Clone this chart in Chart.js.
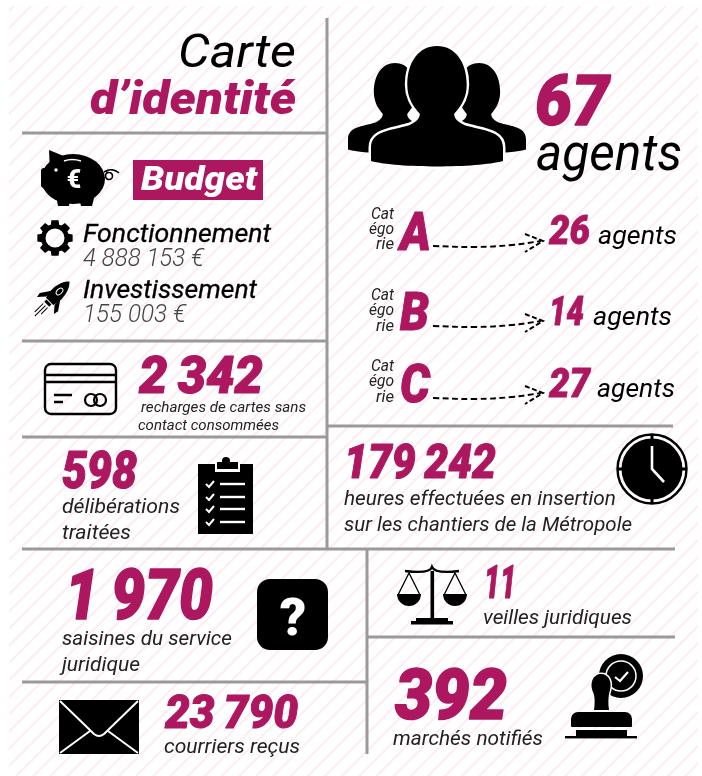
<!DOCTYPE html>
<html lang="fr">
<head>
<meta charset="utf-8">
<title>Carte d'identité</title>
<script src="https://cdn.jsdelivr.net/npm/chart.js@4"></script>
<style>
  html, body { margin: 0; padding: 0; background: #fff; }
  canvas { display: block; }
</style>
</head>
<body>
<canvas id="infographic" width="702" height="776"></canvas>
<script>
// data
const titleLines = ['Carte', 'd’identité'];
const budgetTitle = 'Budget';
const budgetLabels = ['Fonctionnement', 'Investissement'];
const budgetValues = [4888153, 155003];
const totalAgents = 67;
const agentsWord = 'agents';
const categories = ['A', 'B', 'C'];
const categoryAgents = [26, 14, 27];
const categoryWord = ['Cat', 'égo', 'rie'];
const statValues = [2342, 598, 179242, 1970, 23790, 11, 392];
const statLabels = [
    ['recharges de cartes sans', 'contact consommées'],
    ['délibérations', 'traitées'],
    ['heures effectuées en insertion', 'sur les chantiers de la Métropole'],
    ['saisines du service', 'juridique'],
    ['courriers reçus'],
    ['veilles juridiques'],
    ['marchés notifiés'],
];

const MAGENTA = '#ad1760';
const INK = '#000';
const SOFT = '#222';
const GREY = '#9a9a9a';

// thin space between thousands for the big figures, like the original
const groupNumber = (n, sep = ' ') => String(n).replace(/\B(?=(\d{3})+$)/g, sep);

const font = (weight, size) => `italic ${weight} ${size}px Roboto, "Noto Sans", sans-serif`;

// layout: [x, baseline, width, size]
const statNumberBox = [
    [139, 393, 124, 52], [62, 488, 75, 52], [344, 478, 152, 48],
    [65, 619, 148, 70], [165, 728, 133, 47], [484, 598, 32, 46], [395, 719, 112, 70],
];
const statLabelBox = [
    [[141, 412, 165, 15.5], [138, 430, 141, 15.5]],
    [[62, 513, 118, 21], [62, 539, 69, 21]],
    [[344, 505, 272, 20.5], [344, 531, 288, 20.5]],
    [[62, 645, 170, 20.5], [62, 671, 78, 20.5]],
    [[164, 753, 136, 20.5]],
    [[483, 624, 149, 20.5]],
    [[393, 745, 150, 20.5]],
];
const categoryRows = [
    { word: [[371, 219, 23], [369, 234, 25], [376, 249, 18]], letter: [400, 250, 31], count: [549, 244, 41], agents: [598, 244, 79] },
    { word: [[371, 300, 23], [369, 315, 25], [376, 331, 18]], letter: [400, 330, 29], count: [549, 325, 35], agents: [593, 325, 79] },
    { word: [[371, 371, 23], [369, 386, 25], [376, 402, 18]], letter: [400, 402, 30], count: [549, 397, 41], agents: [597, 397, 78] },
];
const ruleSegments = [
    [[327, 18], [327, 549]],
    [[22, 133], [327, 133]],
    [[22, 341], [327, 341]],
    [[22, 437], [327, 437]],
    [[22, 549], [675, 549]],
    [[327, 426], [673, 426]],
    [[367, 549], [367, 754]],
    [[367, 637], [675, 637]],
    [[22, 682], [367, 682]],
];
const arrowRows = [246, 326, 398];

const toPoints = (seg) => seg.map(([x, y]) => ({ x, y }));

const datasets = ruleSegments.map((seg) => ({
    data: toPoints(seg),
    showLine: true,
    borderColor: GREY,
    borderWidth: 3,
    pointRadius: 0,
}));

arrowRows.forEach((y) => {
    datasets.push({
        data: toPoints([[433, y], [475, y + 1], [512, y - 1], [541, y - 5]]),
        showLine: true,
        tension: 0.4,
        borderColor: INK,
        borderWidth: 1.9,
        borderDash: [6, 3.5],
        pointRadius: 0,
    });
    datasets.push({
        data: toPoints([[525, y - 12], [543, y - 5], [525, y + 6]]),
        showLine: true,
        borderColor: INK,
        borderWidth: 1.9,
        borderDash: [5, 2.5],
        pointRadius: 0,
    });
});

// draw a string so that it spans exactly the given width
function fitText(ctx, str, x, baseline, width, fontStr, color, thicken = 0) {
    ctx.save();
    ctx.font = fontStr;
    ctx.fillStyle = color;
    ctx.textBaseline = 'alphabetic';
    ctx.textAlign = 'left';
    const natural = ctx.measureText(str).width;
    ctx.translate(x, baseline);
    ctx.scale(width / natural, 1);
    if (thicken) {
        ctx.strokeStyle = color;
        ctx.lineWidth = thicken;
        ctx.lineJoin = 'round';
        ctx.strokeText(str, 0, 0);
    }
    ctx.fillText(str, 0, 0);
    ctx.restore();
}

function drawHatch(ctx) {
    ctx.save();
    ctx.beginPath();
    ctx.rect(9, 6, 689, 770);
    ctx.clip();
    ctx.strokeStyle = '#fdeef3';
    ctx.lineWidth = 2.2;
    for (let s = 672 - 17.16 * 40; s < 1500; s += 17.16) {
        ctx.beginPath();
        ctx.moveTo(s + 20, -20);
        ctx.lineTo(s - 800, 800);
        ctx.stroke();
    }
    ctx.restore();
}

function personPath(cx, top, w, h) {
    // unit shape scaled to the box: w half width, h height
    const p = new Path2D();
    const X = (v) => cx + v * w;
    const Y = (v) => top + v * h;
    p.moveTo(X(0), Y(0));
    p.bezierCurveTo(X(0.27), Y(0), X(0.45), Y(0.13), X(0.45), Y(0.32));
    p.bezierCurveTo(X(0.45), Y(0.43), X(0.36), Y(0.5), X(0.26), Y(0.56));
    p.bezierCurveTo(X(0.26), Y(0.6), X(0.32), Y(0.63), X(0.42), Y(0.655));
    p.bezierCurveTo(X(0.7), Y(0.7), X(1), Y(0.7), X(1), Y(0.84));
    p.lineTo(X(1), Y(0.95));
    p.bezierCurveTo(X(0.6), Y(1.01), X(-0.6), Y(1.01), X(-1), Y(0.95));
    p.lineTo(X(-1), Y(0.84));
    p.bezierCurveTo(X(-1), Y(0.7), X(-0.7), Y(0.7), X(-0.42), Y(0.655));
    p.bezierCurveTo(X(-0.32), Y(0.63), X(-0.26), Y(0.6), X(-0.26), Y(0.56));
    p.bezierCurveTo(X(-0.36), Y(0.5), X(-0.45), Y(0.43), X(-0.45), Y(0.32));
    p.bezierCurveTo(X(-0.45), Y(0.13), X(-0.27), Y(0), X(0), Y(0));
    p.closePath();
    return p;
}

function drawPeople(ctx) {
    ctx.save();
    ctx.fillStyle = INK;
    ctx.fill(personPath(395, 63, 47, 91));
    ctx.fill(personPath(479, 63, 47, 91));
    const main = personPath(437, 46, 66, 121);
    ctx.strokeStyle = '#fff';
    ctx.lineWidth = 5;
    ctx.stroke(main);
    ctx.fill(main);
    ctx.restore();
}

function drawPiggy(ctx) {
    ctx.save();
    ctx.fillStyle = INK;
    ctx.beginPath();
    ctx.ellipse(73, 179, 32, 25, 0, 0, Math.PI * 2);
    ctx.fill();
    ctx.beginPath();
    ctx.roundRect(41, 168, 16, 20, 3);
    ctx.fill();
    ctx.beginPath();
    ctx.moveTo(49, 150);
    ctx.lineTo(66, 157);
    ctx.lineTo(50, 170);
    ctx.closePath();
    ctx.fill();
    ctx.beginPath();
    ctx.moveTo(56, 195);
    ctx.lineTo(58, 206);
    ctx.lineTo(69, 206);
    ctx.lineTo(70, 198);
    ctx.moveTo(79, 198);
    ctx.lineTo(81, 206);
    ctx.lineTo(92, 206);
    ctx.lineTo(95, 194);
    ctx.fill();
    ctx.strokeStyle = INK;
    ctx.lineWidth = 1.6;
    ctx.beginPath();
    ctx.moveTo(104, 172);
    ctx.bezierCurveTo(110, 168, 116, 170, 119, 173);
    ctx.moveTo(106, 172);
    ctx.arc(109, 176, 3.5, -1.6, 4.6);
    ctx.stroke();
    ctx.fillStyle = '#fff';
    ctx.beginPath();
    ctx.arc(56, 170, 1.7, 0, Math.PI * 2);
    ctx.fill();
    ctx.strokeStyle = '#fff';
    ctx.lineWidth = 1.5;
    ctx.beginPath();
    ctx.moveTo(64, 161);
    ctx.quadraticCurveTo(72, 158, 81, 161);
    ctx.stroke();
    ctx.font = '900 25px Roboto, sans-serif';
    ctx.textAlign = 'center';
    ctx.fillText('€', 74, 188);
    ctx.restore();
}

function drawGear(ctx) {
    const cx = 55, cy = 238;
    const p = new Path2D();
    for (let i = 0; i < 8; i++) {
        const a = (i / 8) * Math.PI * 2 - Math.PI / 2;
        const pts = [[-0.3, 14], [-0.2, 18], [0.2, 18], [0.3, 14]];
        pts.forEach(([da, r], j) => {
            const x = cx + Math.cos(a + da) * r;
            const y = cy + Math.sin(a + da) * r;
            if (i === 0 && j === 0) p.moveTo(x, y);
            else p.lineTo(x, y);
        });
    }
    p.closePath();
    p.moveTo(cx + 9.5, cy);
    p.arc(cx, cy, 9.5, 0, Math.PI * 2);
    ctx.save();
    ctx.fillStyle = INK;
    ctx.fill(p, 'evenodd');
    ctx.restore();
}

function drawRocket(ctx) {
    ctx.save();
    ctx.translate(56, 295);
    ctx.rotate(Math.PI / 4);
    ctx.fillStyle = INK;
    ctx.beginPath();
    ctx.moveTo(0, -19);
    ctx.bezierCurveTo(8, -12, 8, 4, 5, 9);
    ctx.lineTo(-5, 9);
    ctx.bezierCurveTo(-8, 4, -8, -12, 0, -19);
    ctx.fill();
    ctx.beginPath();
    ctx.moveTo(-6, 0);
    ctx.lineTo(-13, 10);
    ctx.lineTo(-12, 15);
    ctx.lineTo(-6, 8);
    ctx.moveTo(6, 0);
    ctx.lineTo(13, 10);
    ctx.lineTo(12, 15);
    ctx.lineTo(6, 8);
    ctx.fill();
    ctx.fillRect(-3.5, 10, 7, 3);
    ctx.strokeStyle = '#fff';
    ctx.lineWidth = 1;
    ctx.beginPath();
    ctx.ellipse(0, -5, 2.5, 4, 0, 0, Math.PI * 2);
    ctx.stroke();
    ctx.strokeStyle = INK;
    ctx.beginPath();
    [[-3, 15, 27], [0, 15, 30], [3, 15, 24]].forEach(([x, y0, y1]) => {
        ctx.moveTo(x, y0);
        ctx.lineTo(x, y1);
    });
    ctx.stroke();
    ctx.restore();
}

function drawCard(ctx) {
    ctx.save();
    ctx.strokeStyle = INK;
    ctx.lineWidth = 2.4;
    ctx.beginPath();
    ctx.roundRect(45, 364, 71, 50, 6);
    ctx.moveTo(45, 375);
    ctx.lineTo(116, 375);
    ctx.moveTo(45, 382);
    ctx.lineTo(116, 382);
    ctx.moveTo(54, 395);
    ctx.lineTo(72, 395);
    ctx.moveTo(54, 402);
    ctx.lineTo(63, 402);
    ctx.stroke();
    ctx.lineWidth = 2.2;
    ctx.beginPath();
    ctx.arc(91, 400, 6, 0, Math.PI * 2);
    ctx.moveTo(106, 400);
    ctx.arc(100, 400, 6, 0, Math.PI * 2);
    ctx.stroke();
    ctx.restore();
}

function drawClipboard(ctx) {
    ctx.save();
    ctx.fillStyle = INK;
    ctx.fillRect(198, 464, 55, 70);
    ctx.fillStyle = '#fff';
    ctx.fillRect(215, 463, 25, 9);
    ctx.fillStyle = INK;
    ctx.beginPath();
    ctx.arc(226, 461, 4, 0, Math.PI * 2);
    ctx.fill();
    ctx.fillRect(217, 462, 21, 7);
    ctx.strokeStyle = '#fff';
    [484, 497, 509, 522].forEach((y) => {
        ctx.lineWidth = 2;
        ctx.beginPath();
        ctx.moveTo(206, y);
        ctx.lineTo(209, y + 3);
        ctx.lineTo(214, y - 3);
        ctx.stroke();
        ctx.lineWidth = 2.4;
        ctx.beginPath();
        ctx.moveTo(220, y);
        ctx.lineTo(245, y);
        ctx.stroke();
    });
    ctx.restore();
}

function drawClock(ctx) {
    const cx = 652, cy = 469;
    ctx.save();
    ctx.strokeStyle = INK;
    ctx.lineWidth = 2.4;
    ctx.beginPath();
    ctx.arc(cx, cy, 34.5, 0, Math.PI * 2);
    ctx.stroke();
    ctx.fillStyle = INK;
    ctx.beginPath();
    ctx.arc(cx, cy, 30.5, 0, Math.PI * 2);
    ctx.fill();
    ctx.fillRect(cx - 1.5, cy - 34, 3, 6);
    ctx.fillRect(cx - 1.5, cy + 28, 3, 6);
    ctx.fillRect(cx - 34, cy - 1.5, 6, 3);
    ctx.fillRect(cx + 28, cy - 1.5, 6, 3);
    ctx.strokeStyle = '#fff';
    ctx.lineWidth = 2.6;
    ctx.beginPath();
    ctx.moveTo(cx, cy - 23);
    ctx.lineTo(cx, cy);
    ctx.lineTo(cx + 12, cy + 13);
    ctx.stroke();
    ctx.restore();
}

function drawScales(ctx) {
    ctx.save();
    ctx.fillStyle = INK;
    ctx.strokeStyle = INK;
    ctx.lineWidth = 2.4;
    ctx.beginPath();
    ctx.moveTo(405, 571);
    ctx.quadraticCurveTo(430, 574, 432, 567);
    ctx.quadraticCurveTo(435, 574, 459, 571);
    ctx.stroke();
    ctx.fillRect(430.5, 571, 3.6, 49);
    ctx.fillRect(416, 618, 32, 3);
    ctx.fillRect(411, 621, 42, 3.5);
    ctx.lineWidth = 1.3;
    [409, 455].forEach((c) => {
        ctx.beginPath();
        ctx.moveTo(c - 11, 595);
        ctx.lineTo(c, 573);
        ctx.lineTo(c + 11, 595);
        ctx.stroke();
        ctx.beginPath();
        ctx.arc(c, 594, 12, 0, Math.PI);
        ctx.closePath();
        ctx.fill();
    });
    ctx.restore();
}

function drawQuestion(ctx) {
    ctx.save();
    ctx.fillStyle = INK;
    ctx.beginPath();
    ctx.roundRect(257, 579, 71, 71, 13);
    ctx.fill();
    ctx.fillStyle = '#fff';
    ctx.font = '900 52px Roboto, sans-serif';
    ctx.textAlign = 'center';
    ctx.fillText('?', 293, 635);
    ctx.restore();
}

function drawEnvelope(ctx) {
    ctx.save();
    ctx.fillStyle = INK;
    ctx.fillRect(59, 700, 80, 54);
    ctx.strokeStyle = '#fff';
    ctx.lineWidth = 2;
    ctx.lineJoin = 'round';
    ctx.beginPath();
    ctx.moveTo(60, 701);
    ctx.lineTo(94, 734);
    ctx.quadraticCurveTo(99, 738, 104, 734);
    ctx.lineTo(138, 701);
    ctx.moveTo(60, 753);
    ctx.lineTo(90, 731);
    ctx.moveTo(138, 753);
    ctx.lineTo(108, 731);
    ctx.stroke();
    ctx.restore();
}

function drawStamp(ctx) {
    ctx.save();
    ctx.fillStyle = INK;
    ctx.beginPath();
    ctx.arc(621, 676, 22, 0, Math.PI * 2);
    ctx.fill();
    ctx.strokeStyle = '#fff';
    ctx.lineWidth = 1.5;
    ctx.beginPath();
    ctx.arc(621, 676, 15, 0, Math.PI * 2);
    ctx.stroke();
    ctx.lineWidth = 2.2;
    ctx.beginPath();
    ctx.moveTo(615, 677);
    ctx.lineTo(620, 681);
    ctx.lineTo(628, 672);
    ctx.stroke();
    const handle = new Path2D();
    handle.moveTo(601, 674);
    handle.bezierCurveTo(609, 674, 612, 682, 610, 690);
    handle.bezierCurveTo(608, 696, 608, 704, 609, 710);
    handle.lineTo(594, 710);
    handle.bezierCurveTo(595, 704, 595, 696, 593, 692);
    handle.bezierCurveTo(589, 682, 594, 674, 601, 674);
    handle.closePath();
    ctx.lineWidth = 3;
    ctx.stroke(handle);
    ctx.fillStyle = INK;
    ctx.fill(handle);
    ctx.beginPath();
    ctx.roundRect(571, 712, 61, 15, [7, 7, 1, 1]);
    ctx.fill();
    ctx.fillRect(576, 730, 51, 7);
    ctx.fillRect(565, 736, 72, 2.4);
    ctx.restore();
}

const backdrop = {
    id: 'backdrop',
    beforeDraw(chart) {
        drawHatch(chart.ctx);
    },
};

const infographic = {
    id: 'infographic',
    afterDatasetsDraw(chart) {
        const ctx = chart.ctx;
        drawPeople(ctx);
        drawPiggy(ctx);
        drawGear(ctx);
        drawRocket(ctx);
        drawCard(ctx);
        drawClipboard(ctx);
        drawClock(ctx);
        drawScales(ctx);
        drawQuestion(ctx);
        drawEnvelope(ctx);
        drawStamp(ctx);

        fitText(ctx, titleLines[0], 178, 67, 118, font(400, 47), INK);
        fitText(ctx, titleLines[1], 90, 114, 206, font(900, 47), MAGENTA);

        ctx.fillStyle = MAGENTA;
        ctx.fillRect(133, 160, 130, 40);
        fitText(ctx, budgetTitle, 141, 190, 116, font(900, 33), '#fff');

        fitText(ctx, budgetLabels[0], 83, 241.5, 188, font(400, 25.5), INK, 0.3);
        fitText(ctx, groupNumber(budgetValues[0]) + ' €', 83, 266, 121, font(300, 25.5), '#444');
        fitText(ctx, budgetLabels[1], 83, 297.5, 174, font(400, 25.5), INK, 0.3);
        fitText(ctx, groupNumber(budgetValues[1]) + ' €', 83, 322, 103, font(300, 25.5), '#444');

        fitText(ctx, String(totalAgents), 535, 125, 74, font(900, 70), MAGENTA, 1.5);
        fitText(ctx, agentsWord, 536, 170, 146, font(400, 52), INK);

        categories.forEach((cat, i) => {
            const row = categoryRows[i];
            categoryWord.forEach((part, j) => {
                const [x, y, w] = row.word[j];
                fitText(ctx, part, x, y, w, font(400, 16.5), SOFT);
            });
            fitText(ctx, cat, row.letter[0], row.letter[1], row.letter[2], font(900, 53), MAGENTA, 1);
            fitText(ctx, String(categoryAgents[i]), row.count[0], row.count[1], row.count[2], font(900, 40), MAGENTA, 0.8);
            fitText(ctx, agentsWord, row.agents[0], row.agents[1], row.agents[2], font(400, 25), INK);
        });

        statValues.forEach((value, i) => {
            const [x, y, w, size] = statNumberBox[i];
            fitText(ctx, groupNumber(value, '\u2009'), x, y, w, font(900, size), MAGENTA, size / 45);
            statLabels[i].forEach((line, j) => {
                const [lx, ly, lw, lsize] = statLabelBox[i][j];
                fitText(ctx, line, lx, ly, lw, font(400, lsize), SOFT);
            });
        });
    },
};

new Chart(document.getElementById('infographic'), {
    type: 'scatter',
    data: { datasets },
    plugins: [backdrop, infographic],
    options: {
        responsive: false,
        animation: false,
        layout: { padding: 0 },
        plugins: {
            legend: { display: false },
            tooltip: { enabled: false },
        },
        scales: {
            x: { type: 'linear', min: 0, max: 702, display: false },
            y: { type: 'linear', min: 0, max: 776, reverse: true, display: false },
        },
    },
});
</script>
</body>
</html>
